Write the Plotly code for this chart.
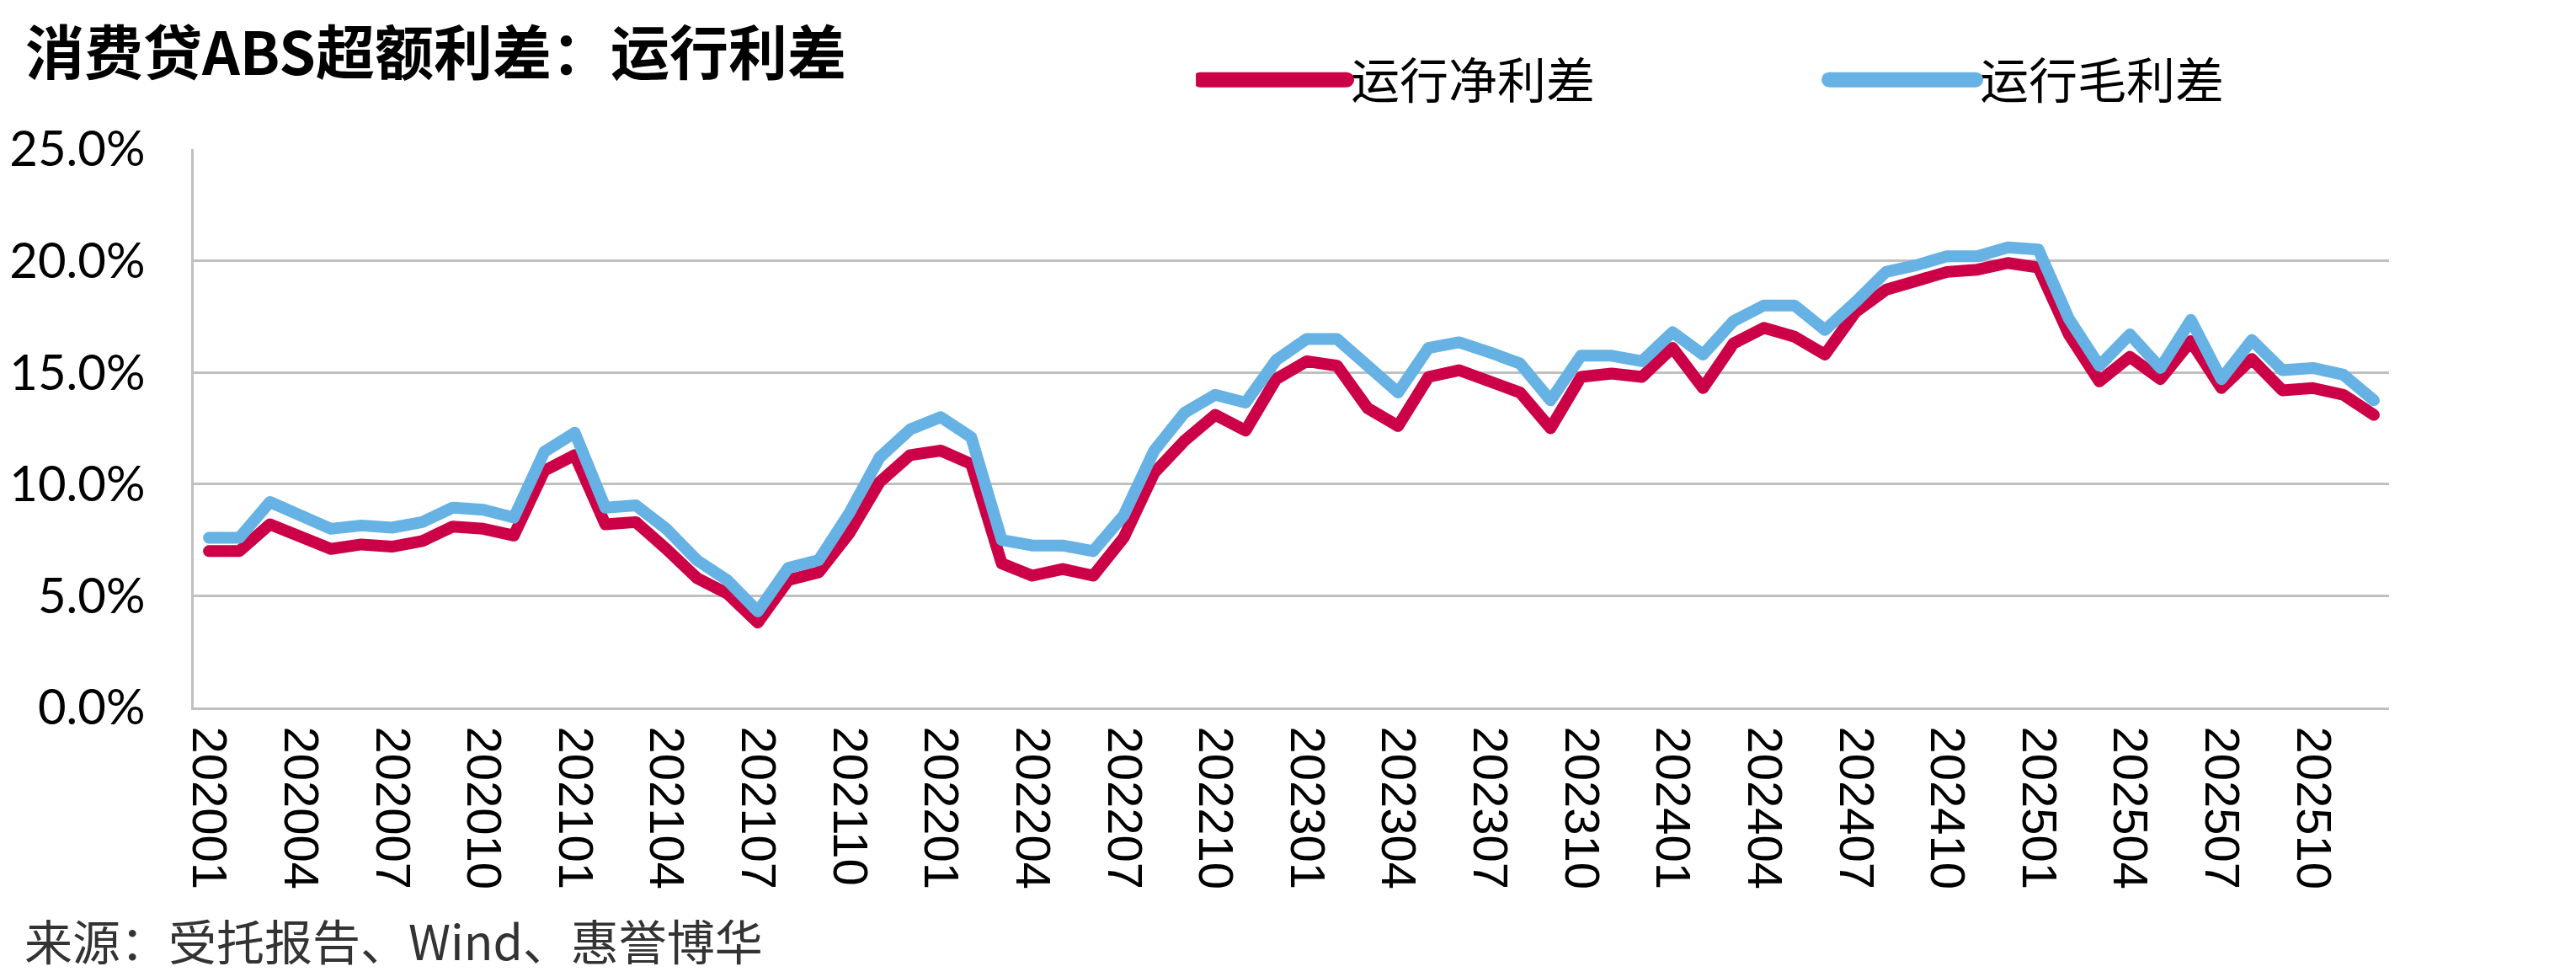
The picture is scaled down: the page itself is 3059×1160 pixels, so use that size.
import plotly.graph_objects as go

# ---- data (percent) ----
months = [f"{y}{m:02d}" for y in range(2020, 2026) for m in range(1, 13)]
tick_labels = months[::3]

net_spread = [
    7.0, 7.0, 8.2, 7.6, 7.1, 7.3, 7.2, 7.45, 8.1, 8.0, 7.7, 10.6,
    11.3, 8.2, 8.3, 7.1, 5.8, 5.1, 3.8, 5.7, 6.05, 7.8, 10.1, 11.3,
    11.5, 10.9, 6.45, 5.9, 6.2, 5.9, 7.6, 10.5, 11.95, 13.1, 12.4, 14.7,
    15.5, 15.3, 13.4, 12.6, 14.8, 15.1, 14.6, 14.1, 12.5, 14.8, 14.95, 14.8,
    16.1, 14.3, 16.3, 17.0, 16.6, 15.8, 17.7, 18.7, 19.1, 19.5, 19.6, 19.9,
    19.7, 16.7, 14.6, 15.7, 14.7, 16.4, 14.3, 15.6, 14.2, 14.3, 14.0, 13.1,
]
gross_spread = [
    7.6, 7.6, 9.2, 8.6, 8.0, 8.15, 8.05, 8.3, 8.95, 8.85, 8.5, 11.45,
    12.3, 8.95, 9.05, 8.0, 6.6, 5.7, 4.3, 6.25, 6.6, 8.7, 11.2, 12.45,
    13.0, 12.1, 7.5, 7.25, 7.25, 7.0, 8.6, 11.5, 13.2, 14.0, 13.65, 15.55,
    16.5, 16.5, 15.3, 14.1, 16.1, 16.35, 15.9, 15.4, 13.75, 15.75, 15.75, 15.5,
    16.8, 15.8, 17.3, 18.0, 18.0, 16.9, 18.15, 19.5, 19.8, 20.2, 20.2, 20.6,
    20.5, 17.4, 15.3, 16.7, 15.2, 17.35, 14.7, 16.45, 15.1, 15.2, 14.9, 13.75,
]
series_names = ["运行净利差", "运行毛利差"]
y_ticks = [0, 5, 10, 15, 20, 25]
y_tick_text = [f"{v:.1f}%" for v in y_ticks]

RED = "#CC0046"
BLUE = "#66B2E4"
GRID = "#C0C0C0"
CJK = "Noto Sans CJK SC"

fig = go.Figure()
fig.add_trace(go.Scatter(x=months, y=net_spread, name=series_names[0], mode="lines",
                         line=dict(color=RED, width=14)))
fig.add_trace(go.Scatter(x=months, y=gross_spread, name=series_names[1], mode="lines",
                         line=dict(color=BLUE, width=14)))

fig.update_layout(
    width=3059, height=1160,
    margin=dict(l=230, r=222, t=177, b=320, autoexpand=False),
    paper_bgcolor="white", plot_bgcolor="white",
    showlegend=True,
    legend=dict(orientation="h", x=0.4565, y=1.1237, xanchor="left", yanchor="middle",
                font=dict(family=CJK, size=58, color="black"),
                itemwidth=174, entrywidth=558, entrywidthmode="pixels",
                bgcolor="rgba(0,0,0,0)", traceorder="normal"),
    xaxis=dict(type="category", range=[-0.5, len(months) - 0.5],
               tickmode="array", tickvals=tick_labels, ticktext=tick_labels,
               tickangle=90, showgrid=False, showline=True, linecolor=GRID, linewidth=3,
               ticks="", ticklabelstandoff=8,
               tickfont=dict(family="Liberation Sans", size=58, color="black")),
    yaxis=dict(range=[0, 25], tickmode="array", tickvals=y_ticks, ticktext=y_tick_text,
               showgrid=True, gridcolor=GRID, gridwidth=3, zeroline=False,
               showline=True, linecolor=GRID, linewidth=3, ticks="",
               ticklabelstandoff=43,
               tickfont=dict(family="Lato", size=58, color="black")),
    annotations=[
        dict(text="<b>消费贷ABS超额利差：运行利差</b>", xref="paper", yref="paper",
             x=-0.0775, y=1.178, xanchor="left", yanchor="middle", showarrow=False,
             font=dict(family=CJK, size=70, color="black")),
        dict(text="来源：受托报告、Wind、惠誉博华", xref="paper", yref="paper",
             x=-0.078, y=(840 - 1115) / 663, xanchor="left", yanchor="middle",
             showarrow=False,
             font=dict(family=CJK, size=57, color="#333333")),
    ],
)

post = """
document.body.style.margin='0';
document.body.style.padding='0';
document.querySelectorAll('.js-line').forEach(function(p){
  p.style.strokeLinejoin='round'; p.style.strokeLinecap='round';
});
document.querySelectorAll('.legend .legendlines path').forEach(function(p){
  p.style.strokeWidth='18px';
});
"""
fig.write_html("out.html", post_script=post, config={"displayModeBar": False})
